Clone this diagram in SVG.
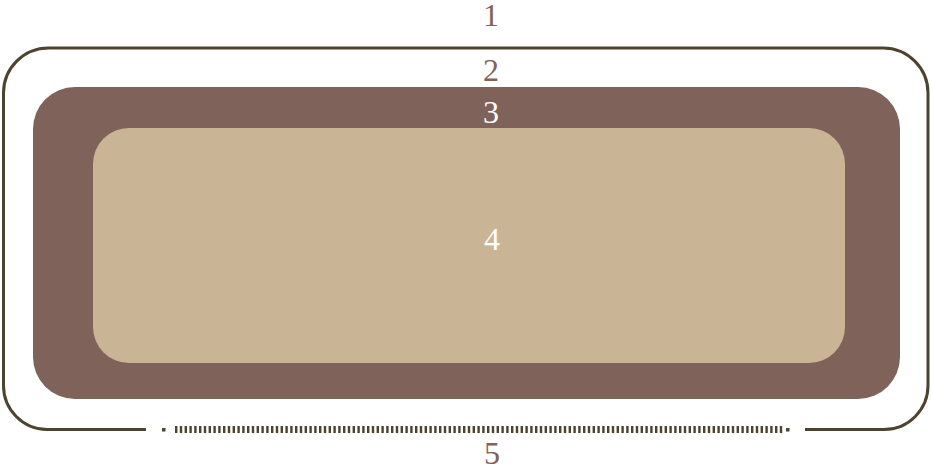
<svg xmlns="http://www.w3.org/2000/svg" width="931" height="468" viewBox="0 0 931 468">
<style>
.lbl{font-family:"Liberation Serif","DejaVu Serif",serif;font-size:32px;text-anchor:middle}
.dk{fill:#7f635a}
.lt{fill:#ffffff}
.edge{fill:none;stroke:#4d4430;stroke-width:3}
</style>
<rect width="931" height="468" fill="#ffffff"/>
<g id="node3"><rect x="33" y="87" width="867" height="312" rx="42" ry="42" fill="#7f635a"/><text class="lbl lt" x="491" y="123">3</text></g>
<g id="node4"><rect x="93" y="128" width="752" height="235" rx="36" ry="36" fill="#c9b595"/><text class="lbl lt" x="492" y="250">4</text></g>
<g id="connectors">
<path class="edge" d="M146 429.5 H47 A44 44 0 0 1 3.5 385.5 V93 A45 45 0 0 1 48.5 48 H883 A45 45 0 0 1 928 93 V385 A44 44 0 0 1 884 429.5 H805"/>
<rect x="162" y="428" width="3.5" height="3.5" fill="#4d4430"/>
<rect x="786" y="428" width="3.5" height="3.5" fill="#4d4430"/>
<line x1="175" y1="429.5" x2="784" y2="429.5" stroke="#4d4430" stroke-width="7" stroke-dasharray="2.4 2.4"/>
</g>
<g id="labels">
<text class="lbl dk" x="491" y="26">1</text>
<text class="lbl dk" x="491" y="81">2</text>
<text class="lbl dk" x="492" y="464">5</text>
</g>
</svg>
